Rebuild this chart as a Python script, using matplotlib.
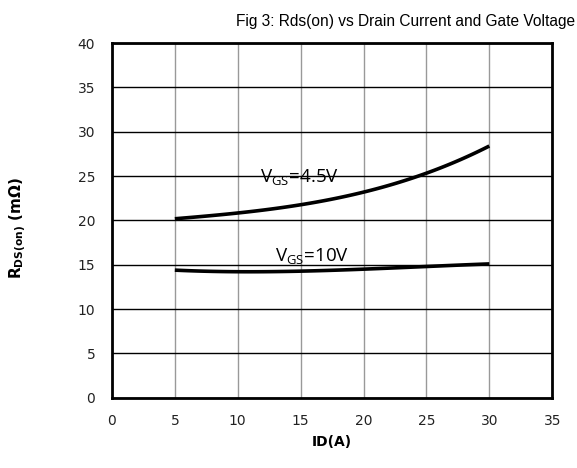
import matplotlib.pyplot as plt
import numpy as np

# Drain current (A)
id_a = [5, 10, 15, 20, 25, 30]
# Rds(on) in mOhm
rds_45v = [20.2, 20.8, 21.8, 23.2, 25.3, 28.4]
rds_10v = [14.4, 14.2, 14.3, 14.5, 14.8, 15.1]

x_ticks = [0, 5, 10, 15, 20, 25, 30, 35]
y_ticks = [0, 5, 10, 15, 20, 25, 30, 35, 40]

fig = plt.figure(figsize=(5.77, 4.68), dpi=100)
ax = fig.add_axes([0.194, 0.150, 0.763, 0.758])

# smooth curves through the read points
xs = np.linspace(5, 30, 100)
for ys in (rds_45v, rds_10v):
    coef = np.polyfit(id_a, ys, 3)
    ax.plot(xs, np.polyval(coef, xs), color='black', lw=2.6, solid_capstyle='butt', zorder=3)

ax.set_xlim(0, 35)
ax.set_ylim(0, 40)
ax.set_xticks(x_ticks)
ax.set_yticks(y_ticks)
ax.tick_params(length=0, labelsize=10, labelcolor='#222222', pad=12)
for lab in ax.get_xticklabels() + ax.get_yticklabels():
    lab.set_family('DejaVu Sans')

for x in x_ticks:
    ax.axvline(x, color='#999999', lw=1, zorder=1)
for y in y_ticks:
    ax.axhline(y, color='black', lw=1, zorder=1)
for s in ax.spines.values():
    s.set_linewidth(2)

ax.text(11.8, 24.3, r'V$_{\mathregular{GS}}$=4.5V', fontsize=13.5, family='Open Sans', zorder=4)
ax.text(13.0, 15.3, r'V$_{\mathregular{GS}}$=10V', fontsize=13.5, family='Open Sans', zorder=4)

ax.set_xlabel('ID(A)', fontsize=10, fontweight='bold', family='DejaVu Sans', labelpad=5)
ax.set_ylabel(r'R$_{\mathregular{DS(on)}}$ (mΩ)', fontsize=11, fontweight='bold', family='DejaVu Sans')
ax.yaxis.set_label_coords(-0.188, 0.479)
fig.text(0.997, 0.953, 'Fig 3: Rds(on) vs Drain Current and Gate Voltage', ha='right', va='center',
         fontsize=11.2, family='Liberation Sans')

fig.savefig('out.png', dpi=100)
